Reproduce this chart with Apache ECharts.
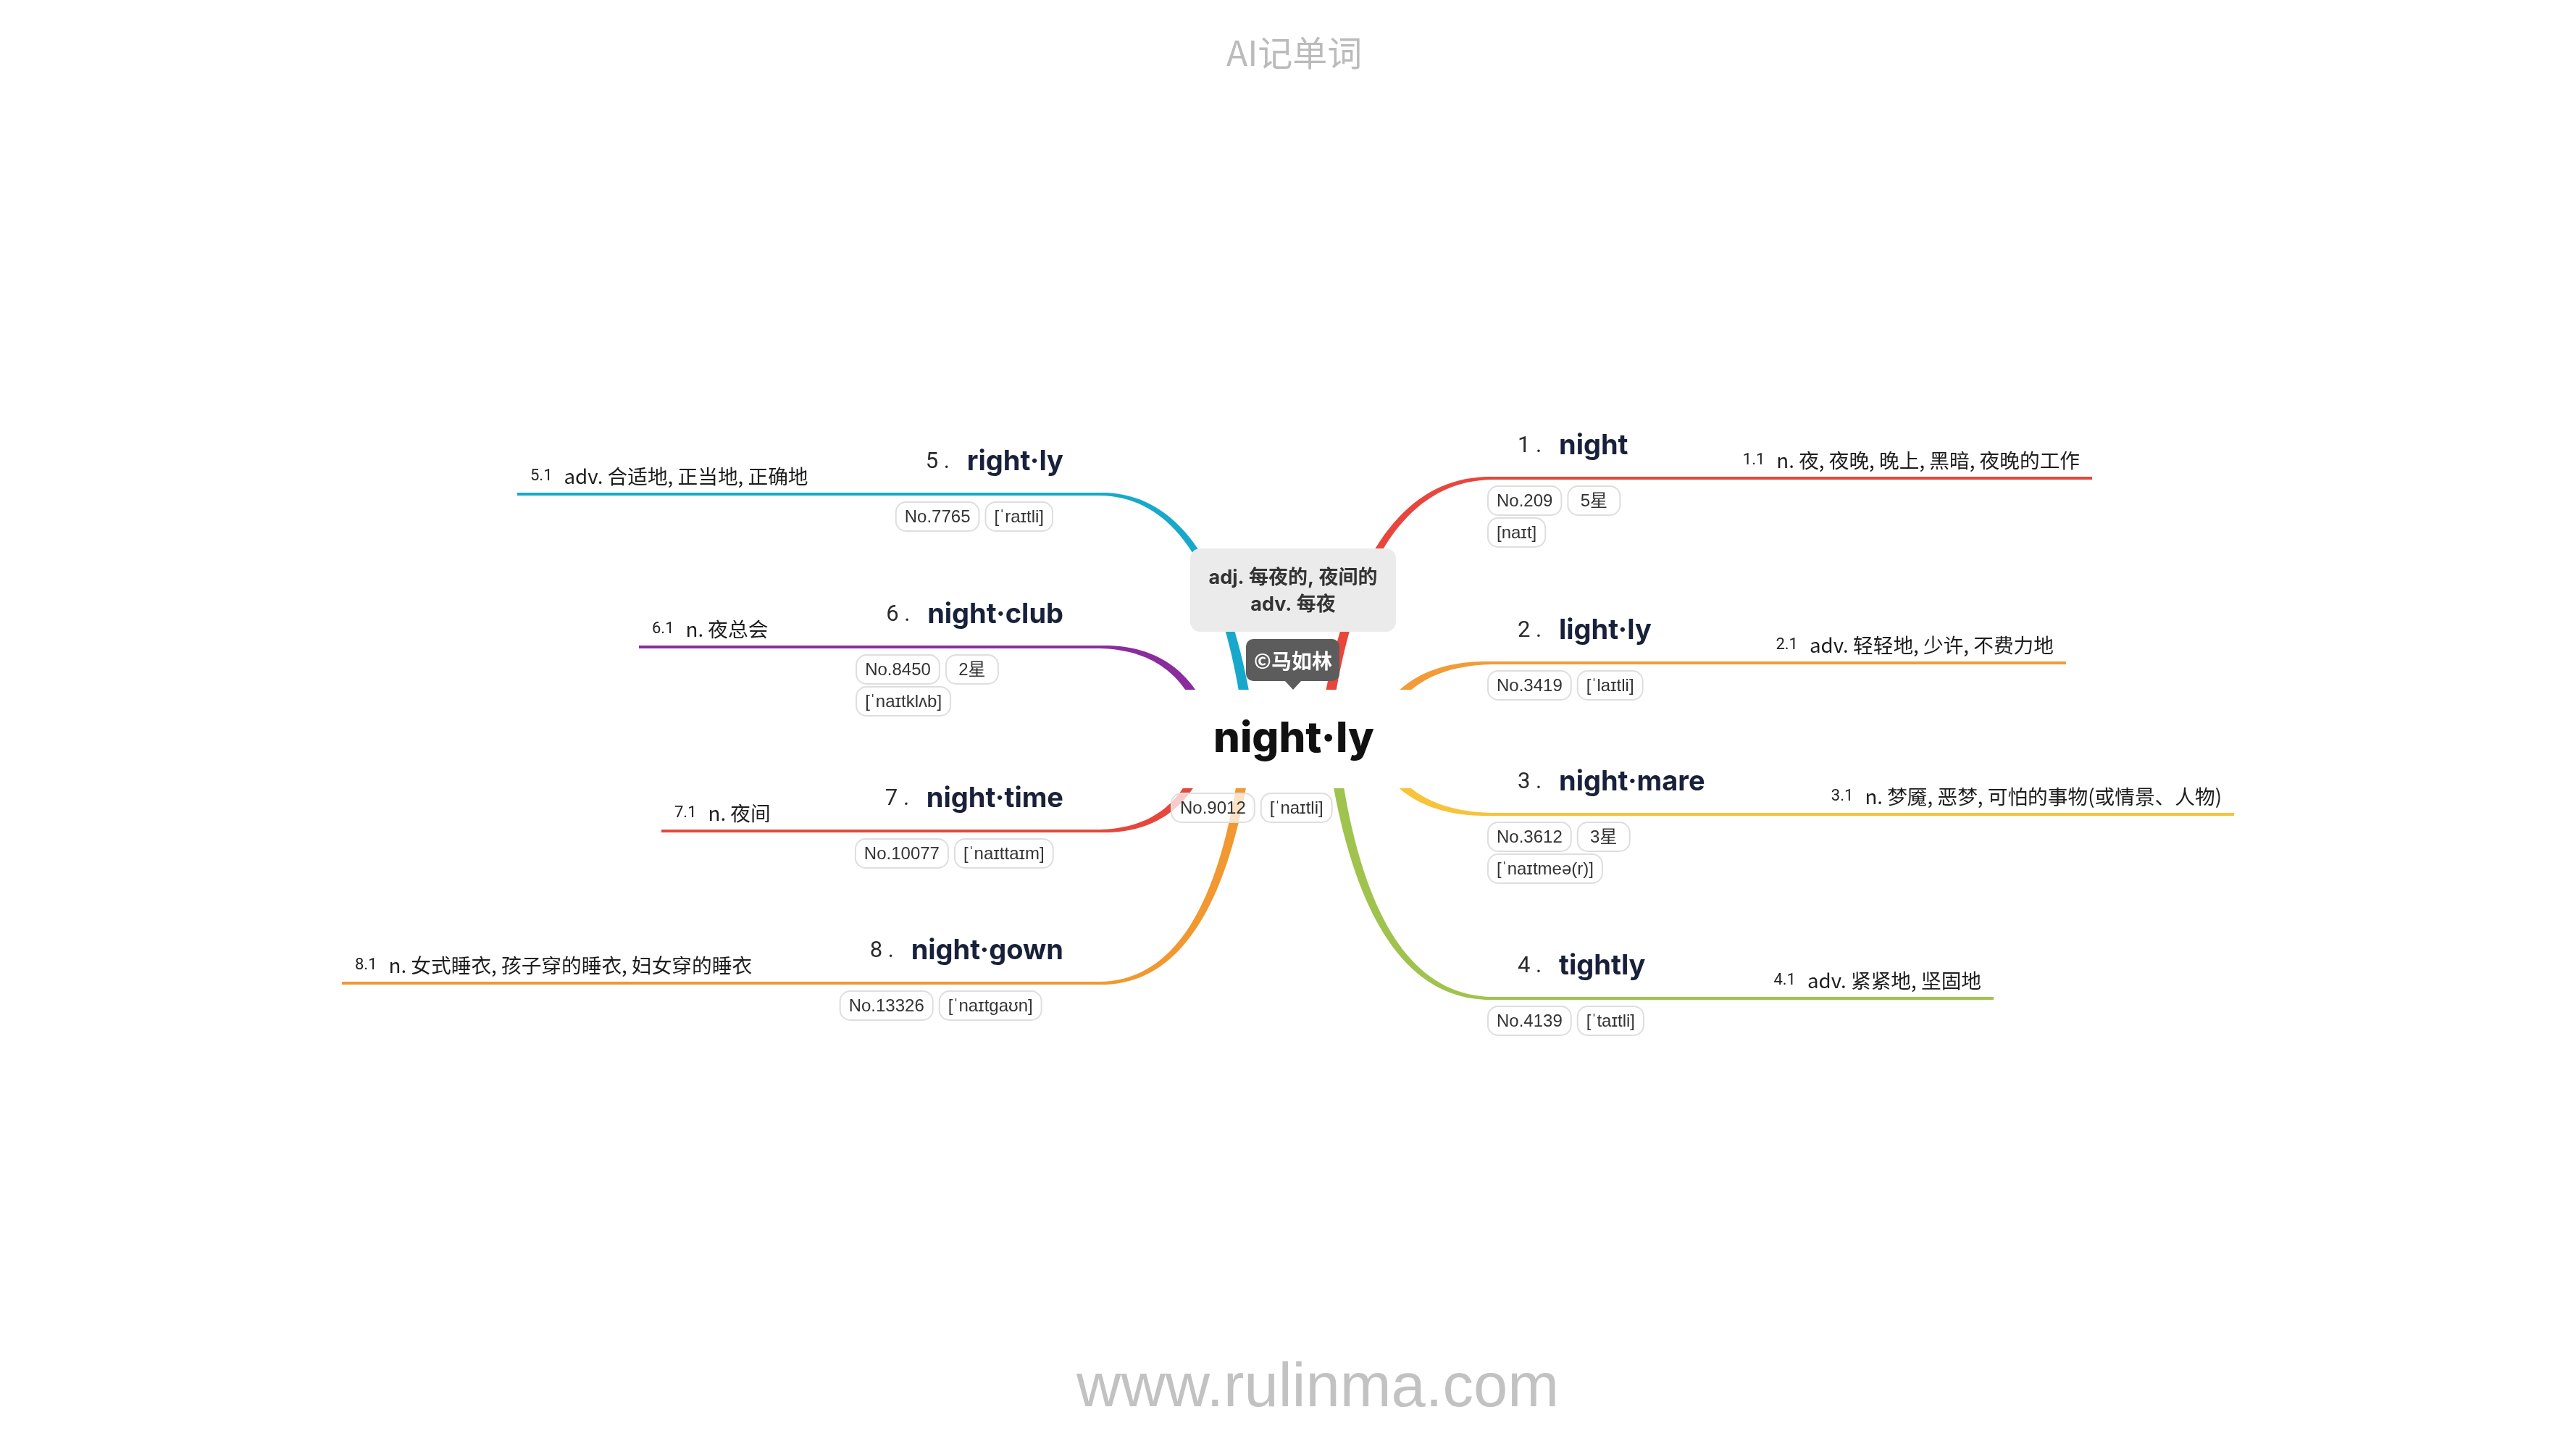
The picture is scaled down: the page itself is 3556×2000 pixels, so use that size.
<!DOCTYPE html>
<html>
<head>
<meta charset="utf-8">
<title>night·ly</title>
<script src="https://cdn.jsdelivr.net/npm/echarts@6/dist/echarts.min.js"></script>
<style>
  html, body { margin: 0; padding: 0; background: #fff; }
  #chart { width: 3556px; height: 2000px; }
</style>
</head>
<body>
<div id="chart"></div>
<script>
// 中心词
const centerWord = 'night·ly'
const centerRank = 'No.9012'
const centerPhonetic = '[ˈnaɪtli]'
const centerNote = ['adj. 每夜的, 夜间的', 'adv. 每夜']
const author = '©马如林'

// 分支：1-4 在右侧，5-8 在左侧
const words = ['night', 'light·ly', 'night·mare', 'tightly', 'right·ly', 'night·club', 'night·time', 'night·gown']
const ranks = ['No.209', 'No.3419', 'No.3612', 'No.4139', 'No.7765', 'No.8450', 'No.10077', 'No.13326']
const stars = ['5星', '', '3星', '', '', '2星', '', '']
const phonetics = ['[naɪt]', '[ˈlaɪtli]', '[ˈnaɪtmeə(r)]', '[ˈtaɪtli]', '[ˈraɪtli]', '[ˈnaɪtklʌb]', '[ˈnaɪttaɪm]', '[ˈnaɪtgaʊn]']
const meanings = [
  'n. 夜, 夜晚, 晚上, 黑暗, 夜晚的工作',
  'adv. 轻轻地, 少许, 不费力地',
  'n. 梦魇, 恶梦, 可怕的事物(或情景、人物)',
  'adv. 紧紧地, 坚固地',
  'adv. 合适地, 正当地, 正确地',
  'n. 夜总会',
  'n. 夜间',
  'n. 女式睡衣, 孩子穿的睡衣, 妇女穿的睡衣',
]

// 画布坐标 (与像素一致的隐藏坐标轴)
const centerPoint = [1786, 1020]
const lineY = [660, 915, 1124, 1378, 682, 893, 1147, 1357]
const innerX = [2060, 2060, 2060, 2060, 1518, 1518, 1518, 1518]
const outerX = [2888, 2852, 3084, 2752, 714, 882, 913, 472]
const rootX = [1827, 1898, 1896, 1838, 1727, 1672, 1668, 1723]

const colors = ['#e8463c', '#f29b38', '#f8c23a', '#9fc34d', '#18a8cb', '#8a2c9e', '#e5473c', '#f19831']

const WORD_FONT = 'Inter, "Noto Sans", "Noto Sans CJK SC", sans-serif'
const CJK_FONT = '"Noto Sans CJK SC", "Noto Sans", sans-serif'
const PILL_FONT = '"Liberation Sans", "Noto Sans CJK SC", sans-serif'
const MEANING_SIZE = 27.7

const measureCtx = document.createElement('canvas').getContext('2d')
function textWidth (text, size, family, weight) {
  measureCtx.font = `${weight || 'normal'} ${size}px ${family}`
  return measureCtx.measureText(text).width
}

function pillEls (x, y, text) {
  const w = Math.max(72, textWidth(text, 24, PILL_FONT) + 24)
  return {
    w,
    els: [
      {
        type: 'rect',
        shape: { x, y, width: w, height: 40, r: 14 },
        style: { fill: 'rgba(255,255,255,0.72)', stroke: '#dedede', lineWidth: 2 },
      },
      {
        type: 'text',
        style: {
          x: x + w / 2, y: y + 21, text, align: 'center', verticalAlign: 'middle',
          fontSize: 24, fontFamily: PILL_FONT, fill: '#333',
        },
      },
    ],
  }
}

// 二次贝塞尔，宽度由粗变细
function taperedCurve (p0, p1, p2, w0, w1, color) {
  const left = []
  const right = []
  const n = 40
  for (let k = 0; k <= n; k++) {
    const t = k / n
    const a = (1 - t) * (1 - t)
    const b = 2 * t * (1 - t)
    const c = t * t
    const x = a * p0[0] + b * p1[0] + c * p2[0]
    const y = a * p0[1] + b * p1[1] + c * p2[1]
    let dx = 2 * (1 - t) * (p1[0] - p0[0]) + 2 * t * (p2[0] - p1[0])
    let dy = 2 * (1 - t) * (p1[1] - p0[1]) + 2 * t * (p2[1] - p1[1])
    const len = Math.sqrt(dx * dx + dy * dy) || 1
    dx /= len
    dy /= len
    const hw = (w0 + (w1 - w0) * t) / 2
    left.push([x - dy * hw, y + dx * hw])
    right.push([x + dy * hw, y - dx * hw])
  }
  return {
    type: 'polygon',
    shape: { points: left.concat(right.reverse()) },
    style: { fill: color },
  }
}

function renderBranch (params, api) {
  const i = params.dataIndex
  const p0 = api.coord([api.value(0), centerPoint[1]])
  const p2 = api.coord([api.value(2), api.value(1)])
  const p3 = api.coord([api.value(3), api.value(1)])
  // 控制点在分支水平线上，略偏向外侧
  const p1 = [p0[0] + (p2[0] - p0[0]) * 0.2, p2[1]]
  return {
    type: 'group',
    children: [
      taperedCurve(p0, p1, p2, 15, 4, colors[i]),
      {
        type: 'line',
        shape: { x1: p2[0], y1: p2[1], x2: p3[0], y2: p3[1] },
        style: { stroke: colors[i], lineWidth: 4 },
      },
    ],
  }
}

function renderTopic (params, api) {
  const i = params.dataIndex
  const inner = api.coord([api.value(0), api.value(1)])
  const outer = api.coord([api.value(2), api.value(1)])
  const isRight = inner[0] > centerPoint[0]
  const ly = inner[1]
  const wordW = textWidth(words[i], 38, WORD_FONT, 'bold')
  let prefixLeft, wordLeft
  if (isRight) {
    prefixLeft = inner[0] + 35
    wordLeft = prefixLeft + 57
  } else {
    wordLeft = inner[0] - 50 - wordW
    prefixLeft = wordLeft - 57
  }
  const wordRight = wordLeft + wordW
  const pillsLeft = prefixLeft - 41
  const children = []

  children.push({
    type: 'text',
    style: {
      x: prefixLeft, y: ly - 44, text: `${i + 1} .`, align: 'left', verticalAlign: 'middle',
      fontSize: 31, fontFamily: 'Roboto, sans-serif', fill: '#2b2b2b',
    },
  })
  children.push({
    type: 'text',
    style: {
      x: wordLeft, y: ly - 44, text: words[i], align: 'left', verticalAlign: 'middle',
      fontSize: 38, fontWeight: 'bold', fontFamily: WORD_FONT, fill: '#19213a',
    },
  })

  // 释义
  const subNo = `${i + 1}.1`
  const subW = textWidth(subNo, 22, 'Roboto, sans-serif')
  const meanW = textWidth(meanings[i], MEANING_SIZE, CJK_FONT)
  let subLeft, meanLeft
  if (isRight) {
    meanLeft = outer[0] - 17 - meanW
    subLeft = meanLeft - 16 - subW
  } else {
    subLeft = outer[0] + 18
    meanLeft = subLeft + subW + 16
  }
  children.push({
    type: 'text',
    style: {
      x: subLeft, y: ly - 25, text: subNo, align: 'left', verticalAlign: 'middle',
      fontSize: 22, fontFamily: 'Roboto, sans-serif', fill: '#222',
    },
  })
  children.push({
    type: 'text',
    style: {
      x: meanLeft, y: ly - 25, text: meanings[i], align: 'left', verticalAlign: 'middle',
      fontSize: MEANING_SIZE, fontFamily: CJK_FONT, fill: '#1d1d1d',
    },
  })

  // 标签（词频、星级、音标），超出标题宽度时换行
  const items = [ranks[i], stars[i], phonetics[i]].filter(Boolean)
  const maxW = wordRight - pillsLeft + 15
  let x = pillsLeft
  let y = ly + 11
  items.forEach((txt) => {
    const w = Math.max(72, textWidth(txt, 24, PILL_FONT) + 24)
    if (x > pillsLeft && x + w - pillsLeft > maxW) {
      x = pillsLeft
      y += 44
    }
    const p = pillEls(x, y, txt)
    p.els.forEach(el => children.push(el))
    x += p.w + 9
  })

  return { type: 'group', children }
}

function renderCenter (params, api) {
  const c = api.coord([api.value(0), api.value(1)])
  const children = []
  // 中心主题白底，遮住分支起点
  children.push({
    type: 'rect',
    shape: { x: c[0] - 200, y: c[1] - 68, width: 400, height: 136 },
    style: { fill: '#fff' },
  })
  // 备注框
  children.push({
    type: 'rect',
    shape: { x: c[0] - 143, y: c[1] - 263, width: 284, height: 115, r: 14 },
    style: { fill: '#ebebeb' },
  })
  centerNote.forEach((line, k) => {
    children.push({
      type: 'text',
      style: {
        x: c[0] - 1, y: c[1] - 222 + k * 37, text: line, align: 'center', verticalAlign: 'middle',
        fontSize: 27, fontWeight: 'bold', fontFamily: WORD_FONT, fill: '#333',
      },
    })
  })
  // 作者气泡
  children.push({
    type: 'rect',
    shape: { x: c[0] - 66, y: c[1] - 138, width: 129, height: 58, r: 10 },
    style: { fill: '#5c5c5c' },
  })
  children.push({
    type: 'polygon',
    shape: { points: [[c[0] - 13, c[1] - 81], [c[0] + 11, c[1] - 81], [c[0] - 1, c[1] - 68]] },
    style: { fill: '#5c5c5c' },
  })
  children.push({
    type: 'text',
    style: {
      x: c[0] - 1, y: c[1] - 108, text: author, align: 'center', verticalAlign: 'middle',
      fontSize: 28, fontWeight: 'bold', fontFamily: CJK_FONT, fill: '#fff',
    },
  })
  children.push({
    type: 'text',
    style: {
      x: c[0], y: c[1] + 1, text: centerWord, align: 'center', verticalAlign: 'middle',
      fontSize: 58, fontWeight: 800, fontFamily: WORD_FONT, fill: '#111',
    },
  })
  let x = c[0] - 169
  ;[centerRank, centerPhonetic].forEach((txt) => {
    const p = pillEls(x, c[1] + 75, txt)
    p.els.forEach(el => children.push(el))
    x += p.w + 9
  })
  return { type: 'group', children }
}

const chart = echarts.init(document.getElementById('chart'), null, { renderer: 'canvas' })

chart.setOption({
  animation: false,
  backgroundColor: '#fff',
  title: [
    {
      text: 'AI记单词',
      left: 1688,
      top: 44,
      textStyle: { fontSize: 48, fontWeight: 'normal', color: '#bbbbbb', fontFamily: CJK_FONT },
    },
    {
      text: 'www.rulinma.com',
      left: 1481,
      top: 1870,
      textStyle: { fontSize: 85, fontWeight: 'normal', color: '#c2c2c2', fontFamily: '"Liberation Sans", sans-serif' },
    },
  ],
  grid: { left: 0, right: 0, top: 0, bottom: 0 },
  xAxis: { type: 'value', min: 0, max: 3556, show: false },
  yAxis: { type: 'value', min: 0, max: 2000, inverse: true, show: false },
  series: [
    {
      type: 'custom',
      name: 'branches',
      z: 2,
      silent: true,
      renderItem: renderBranch,
      data: words.map((w, i) => [rootX[i], lineY[i], innerX[i], outerX[i]]),
    },
    {
      type: 'custom',
      name: 'center',
      z: 3,
      silent: true,
      renderItem: renderCenter,
      data: [centerPoint],
    },
    {
      type: 'custom',
      name: 'topics',
      z: 4,
      silent: true,
      renderItem: renderTopic,
      data: words.map((w, i) => [innerX[i], lineY[i], outerX[i]]),
    },
  ],
})
</script>
</body>
</html>
